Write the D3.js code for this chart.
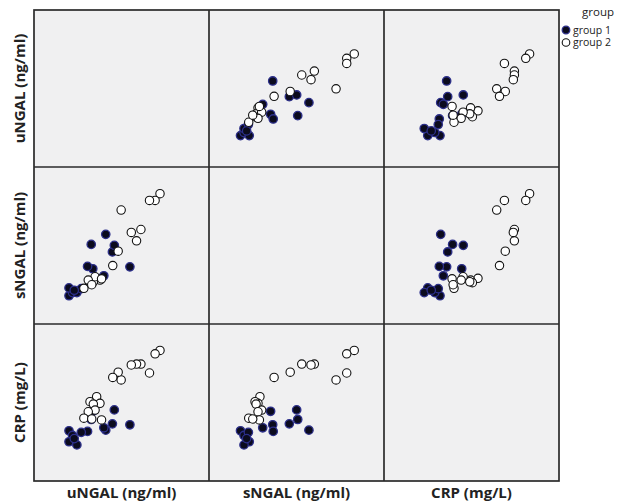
<!DOCTYPE html>
<html>
<head>
<meta charset="utf-8">
<script src="https://cdn.jsdelivr.net/npm/d3@7"></script>
<style>
    body { margin: 0; background: #fff; }
    svg { display: block; }
    text { font-family: "Open Sans", "DejaVu Sans", sans-serif; fill: #222; }
</style>
</head>
<body>
<svg id="chart" width="639" height="504"></svg>
<script>
// variables of the matrix, in row / column order
var variables = ["uNGAL (ng/ml)", "sNGAL (ng/ml)", "CRP (mg/L)"];
var groupNames = ["group 1", "group 2"];

// one entry per subject (relative scale 0-100, no ticks shown in the original)
var uNGAL = [54.8, 44.8, 45.9, 41.0, 39.9, 33.6, 30.6, 32.7,
             20, 22, 20, 24.5, 27, 23,
             72, 69.2, 66, 61.1, 58.6, 55.6, 49.8, 48.1, 45,
             35.8, 37.7, 32, 33.9, 34.9, 31, 28.5, 38.6, 33];
var sNGAL = [36.4, 45.9, 50.1, 57.1, 30.7, 35.2, 36.7, 50.7,
             18, 20, 23, 20, 22.5, 21.5,
             83, 78.7, 78.7, 60.2, 53, 58.3, 72.6, 46.4, 37.2,
             29.1, 28, 26.3, 26.9, 30.1, 28, 22.7, 28.8, 25];
var CRP   = [35.8, 36.4, 45.3, 32.4, 33.9, 44.4, 31.6, 39.2,
             32, 29, 25, 23, 31, 27,
             83.2, 81, 68.8, 74.5, 74.5, 73.9, 64.4, 69.3, 66,
             53.7, 49.5, 50.5, 49, 45.2, 44.1, 40, 38.9, 39.5];
var group = [1, 1, 1, 1, 1, 1, 1, 1,
             1, 1, 1, 1, 1, 1,
             2, 2, 2, 2, 2, 2, 2, 2, 2,
             2, 2, 2, 2, 2, 2, 2, 2, 2];

var columns = [uNGAL, sNGAL, CRP];

var svg = d3.select("#chart"),
    marginLeft = 34,
    marginTop = 10,
    cellW = 175,
    cellH = 157,
    n = variables.length;

var rows = group.map(function(g, i) {
    return {g: g, v: columns.map(function(c) { return c[i]; })};
});
// group 1 drawn first
rows.sort(function(a, b) { return a.g - b.g; });

var x = d3.range(n).map(function(j) {
    return d3.scaleLinear().domain([0, 100]).range([marginLeft + j * cellW, marginLeft + (j + 1) * cellW]);
});
var y = d3.range(n).map(function(i) {
    return d3.scaleLinear().domain([0, 100]).range([marginTop + (i + 1) * cellH, marginTop + i * cellH]);
});

svg.append("rect")
    .attr("x", marginLeft)
    .attr("y", marginTop)
    .attr("width", n * cellW)
    .attr("height", n * cellH)
    .attr("fill", "#f0f0f1");

var markerStyle = function(sel) {
    sel.attr("r", 4.2)
        .attr("fill", function(d) { return d.g == 1 ? "#0b0b1e" : "#ffffff"; })
        .attr("stroke", function(d) { return d.g == 1 ? "#2c2f8a" : "#111"; })
        .attr("stroke-width", function(d) { return d.g == 1 ? 1.3 : 1.1; });
};

for (var i = 0; i < n; i++) {
    for (var j = 0; j < n; j++) {
        if (i == j) continue;
        (function(i, j) {
            svg.append("g")
                .selectAll("circle")
                .data(rows)
                .join("circle")
                .attr("cx", function(d) { return x[j](d.v[j]); })
                .attr("cy", function(d) { return y[i](d.v[i]); })
                .call(markerStyle);
        })(i, j);
    }
}

// grid lines
var grid = svg.append("g").attr("stroke", "#2b2b2b").attr("stroke-width", 1.7).attr("fill", "none");
grid.append("rect")
    .attr("x", marginLeft).attr("y", marginTop)
    .attr("width", n * cellW).attr("height", n * cellH);
for (var k = 1; k < n; k++) {
    grid.append("line")
        .attr("x1", marginLeft + k * cellW).attr("x2", marginLeft + k * cellW)
        .attr("y1", marginTop).attr("y2", marginTop + n * cellH);
    grid.append("line")
        .attr("x1", marginLeft).attr("x2", marginLeft + n * cellW)
        .attr("y1", marginTop + k * cellH).attr("y2", marginTop + k * cellH);
}

// axis titles
variables.forEach(function(name, k) {
    svg.append("text")
        .attr("x", marginLeft + (k + 0.5) * cellW)
        .attr("y", marginTop + n * cellH + 17)
        .attr("text-anchor", "middle")
        .attr("font-size", 15)
        .attr("font-weight", "bold")
        .text(name);
    svg.append("text")
        .attr("transform", "translate(25," + (marginTop + (k + 0.5) * cellH) + ") rotate(-90)")
        .attr("text-anchor", "middle")
        .attr("font-size", 15)
        .attr("font-weight", "bold")
        .text(name);
});

// legend
var legend = svg.append("g");
legend.append("text")
    .attr("x", 598).attr("y", 16)
    .attr("text-anchor", "middle")
    .attr("font-size", 11.5)
    .text("group");
var items = legend.selectAll("g.item")
    .data(groupNames.map(function(name, k) { return {g: k + 1, name: name}; }))
    .join("g")
    .attr("class", "item")
    .attr("transform", function(d, k) { return "translate(566," + (30 + k * 12.5) + ")"; });
items.append("circle").attr("cx", 0).attr("cy", 0).call(markerStyle).attr("r", 3.8);
items.append("text")
    .attr("x", 7).attr("y", 3.5)
    .attr("font-size", 10.5)
    .text(function(d) { return d.name; });
</script>
</body>
</html>
